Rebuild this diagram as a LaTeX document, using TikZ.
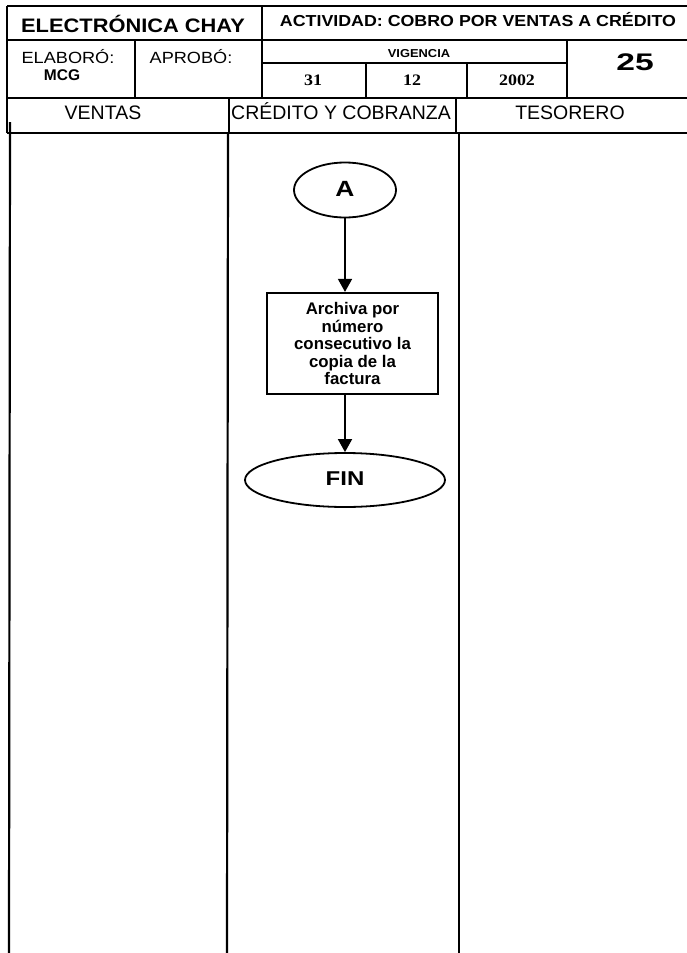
\documentclass[tikz,border=0pt]{standalone}
\usepackage{fontspec}
\setmainfont{Liberation Sans}
\newfontfamily\hwide[FakeStretch=1.12]{Liberation Sans}
\newfontfamily\hwider[FakeStretch=1.2]{Liberation Sans}
\newfontfamily\hwidest[FakeStretch=1.4]{Liberation Sans}
\newfontfamily\swide[FakeStretch=1.12]{Liberation Serif}
\usetikzlibrary{arrows.meta,shapes.geometric}
\tikzset{
  frame/.style={line width=2.2pt},
  lane/.style={line width=2.2pt},
  conn/.style={line width=1.7pt,-{Triangle[width=14pt,length=13pt]}},
  term/.style={ellipse,draw,line width=1.8pt,inner sep=0pt},
  procbox/.style={rectangle,draw,line width=2.2pt,inner sep=0pt,minimum width=171pt,minimum height=101pt,align=center,font=\fontsize{16.8}{17.5}\selectfont\bfseries},
  txt/.style={anchor=base,inner sep=0pt}
}
\begin{document}
\begin{tikzpicture}[x=1pt,y=-1pt]
\useasboundingbox (0,0) rectangle (687,953);
\fill[white] (0,0) rectangle (687,953);
% header frame
\draw[frame] (7,6) -- (687,6);
\draw[frame] (7,40) -- (687,40);
\draw[frame] (7,98) -- (687,98);
\draw[frame] (7,133) -- (687,133);
\draw[frame] (7,6) -- (7,133);
\draw[frame] (262,6) -- (262,98);
\draw[frame] (135,40) -- (135,98);
\draw[frame] (567,40) -- (567,98);
\draw[frame] (262,63) -- (567,63);
\draw[frame] (366,63) -- (366,98);
\draw[frame] (467,63) -- (467,98);
\draw[frame] (229,98) -- (229,133);
\draw[frame] (456,98) -- (456,133);
% lanes
\draw[lane] (10,122) -- (9,953);
\draw[lane] (228,133) -- (227,953);
\draw[lane] (459,133) -- (459,953);
% header texts
\node[txt,font=\hwide\fontsize{19.5}{21}\selectfont\bfseries] (empresa) at (133,32) {ELECTRÓNICA CHAY};
\node[txt,font=\hwide\fontsize{15.9}{18}\selectfont\bfseries] (actividad) at (478,27) {ACTIVIDAD: COBRO POR VENTAS A CRÉDITO};
\node[txt,font=\hwide\fontsize{16.2}{18}\selectfont] (elaboro) at (68,63) {ELABORÓ:};
\node[txt,font=\fontsize{15.5}{17}\selectfont\bfseries] (mcg) at (62,80) {MCG};
\node[txt,font=\hwide\fontsize{16.2}{18}\selectfont] (aprobo) at (191,63) {APROBÓ:};
\node[txt,font=\hwide\fontsize{11.5}{13}\selectfont\bfseries] (vigencia) at (419,57) {VIGENCIA};
\node[txt,font=\swide\fontsize{16}{17}\selectfont\bfseries] (dia) at (313,85) {31};
\node[txt,font=\swide\fontsize{16}{17}\selectfont\bfseries] (mes) at (412,85) {12};
\node[txt,font=\swide\fontsize{16}{17}\selectfont\bfseries] (anio) at (517,85) {2002};
\node[txt,font=\hwidest\fontsize{24}{26}\selectfont\bfseries] (num) at (635,70) {25};
\node[txt,font=\fontsize{19.5}{21}\selectfont] (ventas) at (103,119) {VENTAS};
\node[txt,font=\fontsize{19.5}{21}\selectfont] (credito) at (341,119) {CRÉDITO Y COBRANZA};
\node[txt,font=\fontsize{19.5}{21}\selectfont] (tesorero) at (570,119) {TESORERO};
% flowchart
\node[term,minimum width=102pt,minimum height=55pt] (A) at (345,190) {};
\node[txt,font=\hwider\fontsize{22}{24}\selectfont\bfseries] (Alabel) at (345,196) {A};
\node[procbox] (archiva) at (352.5,343.5) {Archiva por\\número\\consecutivo la\\copia de la\\factura};
\node[term,minimum width=200pt,minimum height=54pt] (fin) at (345,480) {};
\node[txt,font=\hwider\fontsize{20}{22}\selectfont\bfseries] (finlabel) at (345,485.5) {FIN};
\draw[conn] (A.south) -- (A.south |- archiva.north);
\draw[conn] (A.south |- archiva.south) -- (fin.north);
\end{tikzpicture}
\end{document}
